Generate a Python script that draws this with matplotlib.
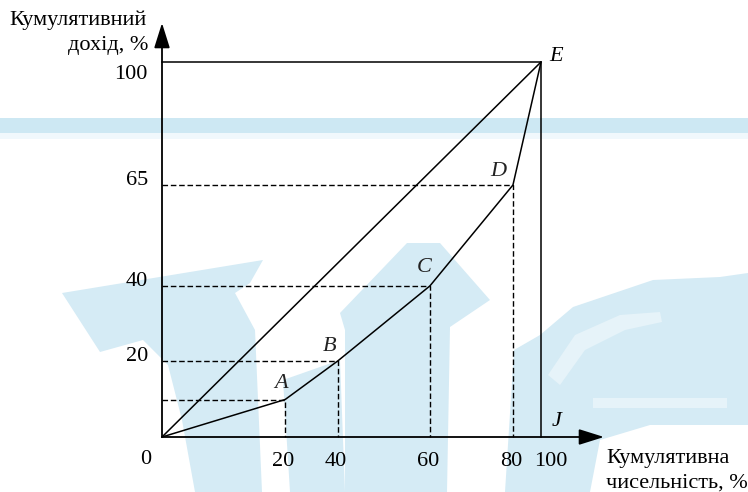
import numpy as np
import matplotlib.pyplot as plt
from matplotlib.patches import Polygon, Rectangle
import matplotlib.transforms as mtransforms

plt.rcParams['font.family'] = ['Liberation Serif', 'DejaVu Serif']

# Lorenz curve points (schematic positions as drawn) and their labels
point_names = ['A', 'B', 'C', 'D']
pop_pos = [32.5, 46.4, 70.7, 92.6]        # horizontal positions of A..D
income_pos = [10, 20.3, 40.3, 67.2]       # vertical positions of A..D
pop_labels = ['20', '40', '60', '80']
income_labels = ['', '20', '40', '65']

curve_x = [0] + pop_pos + [100]
curve_y = [0] + income_pos + [100]

fig = plt.figure(figsize=(7.48, 4.92), dpi=100)
ax = fig.add_axes([0, 0, 1, 1])
sx, sy = 3.79, 3.75  # pixels per unit
ax.set_xlim(-162 / sx, (748 - 162) / sx)
ax.set_ylim((437 - 492) / sy, 437 / sy)
ax.axis('off')

# watermark in the background (pixel coords, origin top-left)
px = mtransforms.Affine2D().scale(1 / 748, -1 / 492).translate(0, 1) + fig.transFigure
wm = '#d5ebf5'
ax.add_patch(Rectangle((0, 118), 748, 15, transform=px, color='#cde8f3', zorder=0, lw=0))
ax.add_patch(Rectangle((0, 133), 748, 6, transform=px, color='#f0f8fc', zorder=0, lw=0))
shapes = [
    [(62, 293), (263, 260), (250, 283), (235, 293), (255, 330), (262, 492), (195, 492),
     (182, 420), (168, 365), (143, 340), (100, 352)],
    [(283, 380), (340, 360), (345, 492), (290, 492)],
    [(407, 243), (440, 243), (490, 300), (450, 327), (447, 492), (345, 492), (345, 330), (340, 313)],
    [(514, 350), (540, 335), (573, 307), (653, 280), (720, 277), (748, 273), (748, 425),
     (650, 425), (600, 440), (590, 492), (505, 492)],
]
for s in shapes:
    ax.add_patch(Polygon(s, closed=True, transform=px, color=wm, zorder=0, lw=0))
for s in [[(593, 398), (727, 398), (727, 408), (593, 408)],
          [(548, 375), (575, 335), (620, 315), (660, 312), (662, 322), (625, 330), (585, 350), (560, 385)]]:
    ax.add_patch(Polygon(s, closed=True, transform=px, color='#e6f3f9', zorder=0, lw=0))

lw = 1.1
# axes with arrows
arrow = dict(arrowstyle='-|>,head_length=0.7,head_width=0.22', color='black',
             lw=1.3, mutation_scale=22, shrinkA=0, shrinkB=0)
ax.annotate('', xy=(0, (437 - 23) / sy), xytext=(0, 0), arrowprops=arrow)
ax.annotate('', xy=((604 - 162) / sx, 0), xytext=(0, 0), arrowprops=arrow)

# box to E and equality line
ax.plot([0, 100, 100], [100, 100, 0], color='black', lw=lw)
ax.plot([0, 100], [0, 100], color='black', lw=lw)
ax.plot(curve_x, curve_y, color='black', lw=lw)

# dashed guides
for x, y in zip(pop_pos, income_pos):
    ax.plot([0, x, x], [y, y, 0], color='black', lw=1.0, ls=(0, (4, 2)))

def px_text(x, y, s, dx, dy, **kw):
    ax.annotate(s, xy=(x, y), xytext=(dx, -dy), textcoords='offset pixels', **kw)

fs = 16
for name, x, y, dx, dy in zip(point_names, pop_pos, income_pos,
                              [-4, -8, -6, -15], [-16, -14, -18, -13]):
    px_text(x, y, name, dx, dy, fontsize=fs, style='italic', ha='center', va='center', color='#222222')
px_text(100, 100, 'E', 15, -5, fontsize=fs, style='italic', ha='center', va='center')
px_text(100, 0, 'J', 16, -15, fontsize=fs, style='italic', ha='center', va='center')

# tick labels
for x, lab in zip(pop_pos, pop_labels):
    px_text(x, 0, lab, -2, 25, fontsize=fs, ha='center', va='center')
px_text(100, 0, '100', 10, 25, fontsize=fs, ha='center', va='center')
px_text(0, 0, '0', -16, 23, fontsize=fs, ha='center', va='center')
for y, lab in zip(income_pos, income_labels):
    if lab:
        px_text(0, y, lab, -14, -4, fontsize=fs, ha='right', va='center')
px_text(0, 100, '100', -15, 13, fontsize=fs, ha='right', va='center')

# axis titles
ax.text(-15 / sx, (437 - 20) / sy, 'Кумулятивний', fontsize=fs, ha='right', va='center')
ax.text(-14 / sx, (437 - 46) / sy, 'дохід, %', fontsize=fs, ha='right', va='center')
ax.text((606 - 162) / sx, (437 - 458) / sy, 'Кумулятивна', fontsize=fs, ha='left', va='center')
ax.text((606 - 162) / sx, (437 - 483) / sy, 'чисельність, %', fontsize=fs, ha='left', va='center')

fig.savefig('out.png', dpi=100)
